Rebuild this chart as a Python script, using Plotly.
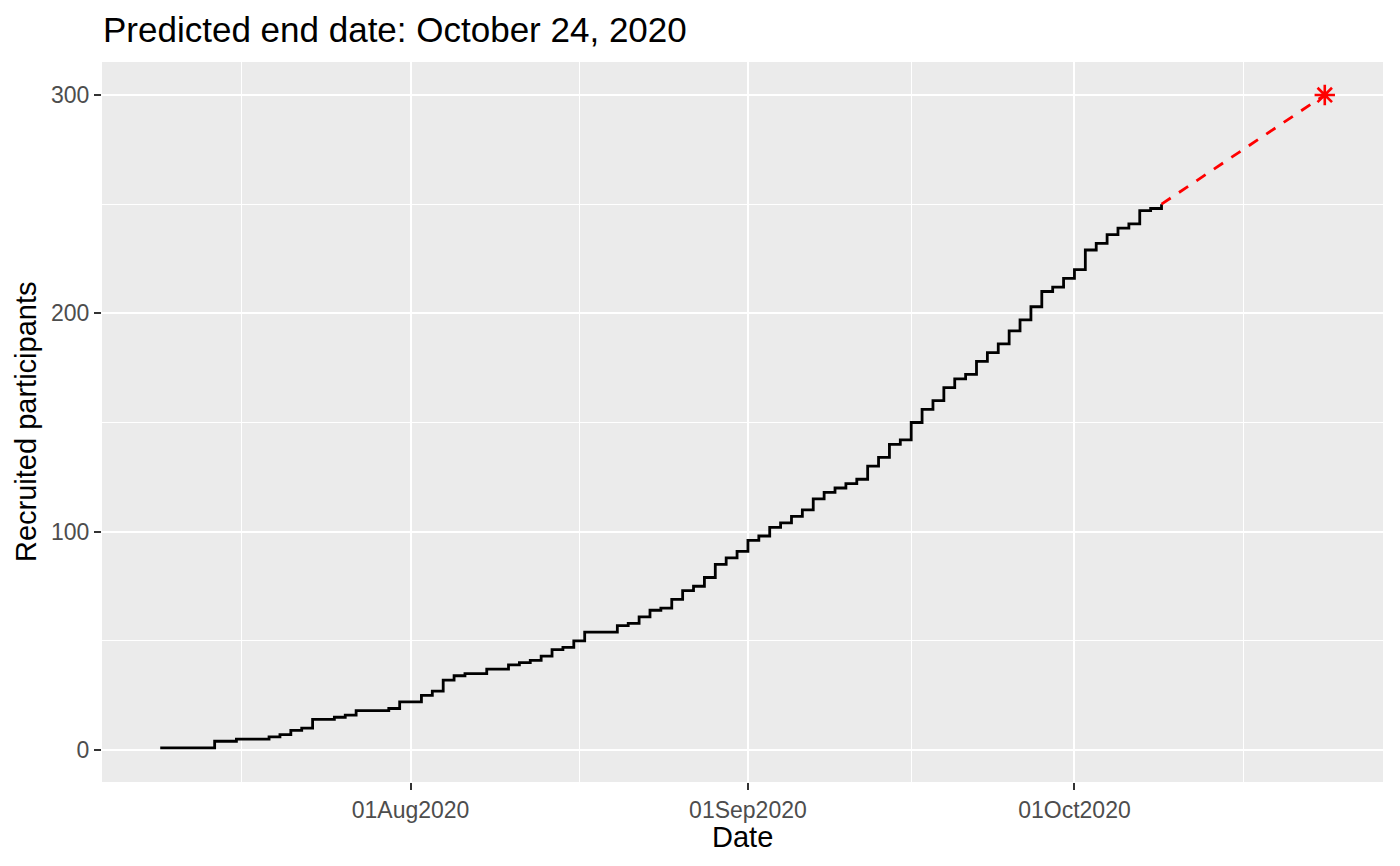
import plotly.graph_objects as go

# Observed recruitment (cumulative count per date)
dates = ["2020-07-09", "2020-07-14", "2020-07-16", "2020-07-19", "2020-07-20", "2020-07-21",
         "2020-07-22", "2020-07-23", "2020-07-25", "2020-07-26", "2020-07-27", "2020-07-30",
         "2020-07-31", "2020-08-02", "2020-08-03", "2020-08-04", "2020-08-05", "2020-08-06",
         "2020-08-08", "2020-08-10", "2020-08-11", "2020-08-12", "2020-08-13", "2020-08-14",
         "2020-08-15", "2020-08-16", "2020-08-17", "2020-08-20", "2020-08-21", "2020-08-22",
         "2020-08-23", "2020-08-24", "2020-08-25", "2020-08-26", "2020-08-27", "2020-08-28",
         "2020-08-29", "2020-08-30", "2020-08-31", "2020-09-01", "2020-09-02", "2020-09-03",
         "2020-09-04", "2020-09-05", "2020-09-06", "2020-09-07", "2020-09-08", "2020-09-09",
         "2020-09-10", "2020-09-11", "2020-09-12", "2020-09-13", "2020-09-14", "2020-09-15",
         "2020-09-16", "2020-09-17", "2020-09-18", "2020-09-19", "2020-09-20", "2020-09-21",
         "2020-09-22", "2020-09-23", "2020-09-24", "2020-09-25", "2020-09-26", "2020-09-27",
         "2020-09-28", "2020-09-29", "2020-09-30", "2020-10-01", "2020-10-02", "2020-10-03",
         "2020-10-04", "2020-10-05", "2020-10-06", "2020-10-07", "2020-10-08", "2020-10-09"]
counts = [1, 4, 5, 6, 7, 9,
          10, 14, 15, 16, 18, 19,
          22, 25, 27, 32, 34, 35,
          37, 39, 40, 41, 43, 46,
          47, 50, 54, 57, 58, 61,
          64, 65, 69, 73, 75, 79,
          85, 88, 91, 96, 98, 102,
          104, 107, 110, 115, 118, 120,
          122, 124, 130, 134, 140, 142,
          150, 156, 160, 166, 170, 172,
          178, 182, 186, 192, 197, 203,
          210, 212, 216, 220, 229, 232,
          236, 239, 241, 247, 248, 250]

# Prediction segment
pred_dates = ["2020-10-09", "2020-10-24"]
pred_counts = [250, 300]
target_date = ["2020-10-24"]
target_count = [300]

x_tickvals = ["2020-08-01", "2020-09-01", "2020-10-01"]
x_minorvals = ["2020-07-16 12:00", "2020-08-16 12:00", "2020-09-16", "2020-10-16 12:00"]
y_tickvals = [0, 100, 200, 300]
y_minorvals = [50, 150, 250]

FONT = "Liberation Sans, Arial, Helvetica, sans-serif"
W, H = 1400, 866
L, R, T, B = 102, 17, 62, 84

fig = go.Figure()
fig.add_trace(go.Scatter(x=dates, y=counts, mode="lines", line=dict(color="black", width=2.8, shape="hv"),
                         showlegend=False, hoverinfo="skip"))
fig.add_trace(go.Scatter(x=pred_dates, y=pred_counts, mode="lines",
                         line=dict(color="#FF0000", width=2.8, dash="11px,10px"),
                         showlegend=False, hoverinfo="skip"))
fig.add_trace(go.Scatter(x=target_date, y=target_count, mode="markers",
                         marker=dict(symbol="asterisk-open", size=17, color="#FF0000",
                                     line=dict(color="#FF0000", width=2.6)),
                         showlegend=False, hoverinfo="skip"))

fig.update_layout(
    width=W, height=H,
    margin=dict(l=L, r=R, t=T, b=B, autoexpand=False),
    paper_bgcolor="white", plot_bgcolor="#EBEBEB",
    font=dict(family=FONT, color="black"),
    title=dict(text="Predicted end date: October 24, 2020", x=103/W, xref="container", xanchor="left",
               y=1 - 30/H, yref="container", yanchor="middle",
               font=dict(size=35, family=FONT, color="black")),
    xaxis=dict(
        type="date", range=["2020-07-03 15:36", "2020-10-29 08:24"],
        tickvals=x_tickvals, tickformat="%d%b%Y",
        tickfont=dict(size=23, color="#4D4D4D", family=FONT),
        ticks="outside", ticklen=7, tickwidth=2, tickcolor="#333333",
        showgrid=True, gridcolor="white", gridwidth=2.4,
        minor=dict(tickvals=x_minorvals, showgrid=True, gridcolor="white", gridwidth=1.2, ticks=""),
        zeroline=False, showline=False, automargin=False,
    ),
    yaxis=dict(
        range=[-14.66, 315.1],
        tickvals=y_tickvals,
        tickfont=dict(size=23, color="#4D4D4D", family=FONT),
        ticks="outside", ticklen=7, tickwidth=2, tickcolor="#333333",
        showgrid=True, gridcolor="white", gridwidth=2.4,
        minor=dict(tickvals=y_minorvals, showgrid=True, gridcolor="white", gridwidth=1.2, ticks=""),
        zeroline=False, showline=False, automargin=False,
    ),
    annotations=[
        dict(text="Date", xref="paper", yref="paper", x=0.5, y=-(837 - (H - B)) / (H - T - B),
             xanchor="center", yanchor="middle", showarrow=False,
             font=dict(size=29, family=FONT, color="black")),
        dict(text="Recruited participants", xref="paper", yref="paper",
             x=-(L - 26) / (W - L - R), y=0.5, xanchor="center", yanchor="middle",
             textangle=-90, showarrow=False, font=dict(size=29, family=FONT, color="black")),
    ],
)

fig.write_html("out.html", config={"displayModeBar": False},
               post_script="document.body.style.margin='0';document.body.style.overflow='hidden';")
